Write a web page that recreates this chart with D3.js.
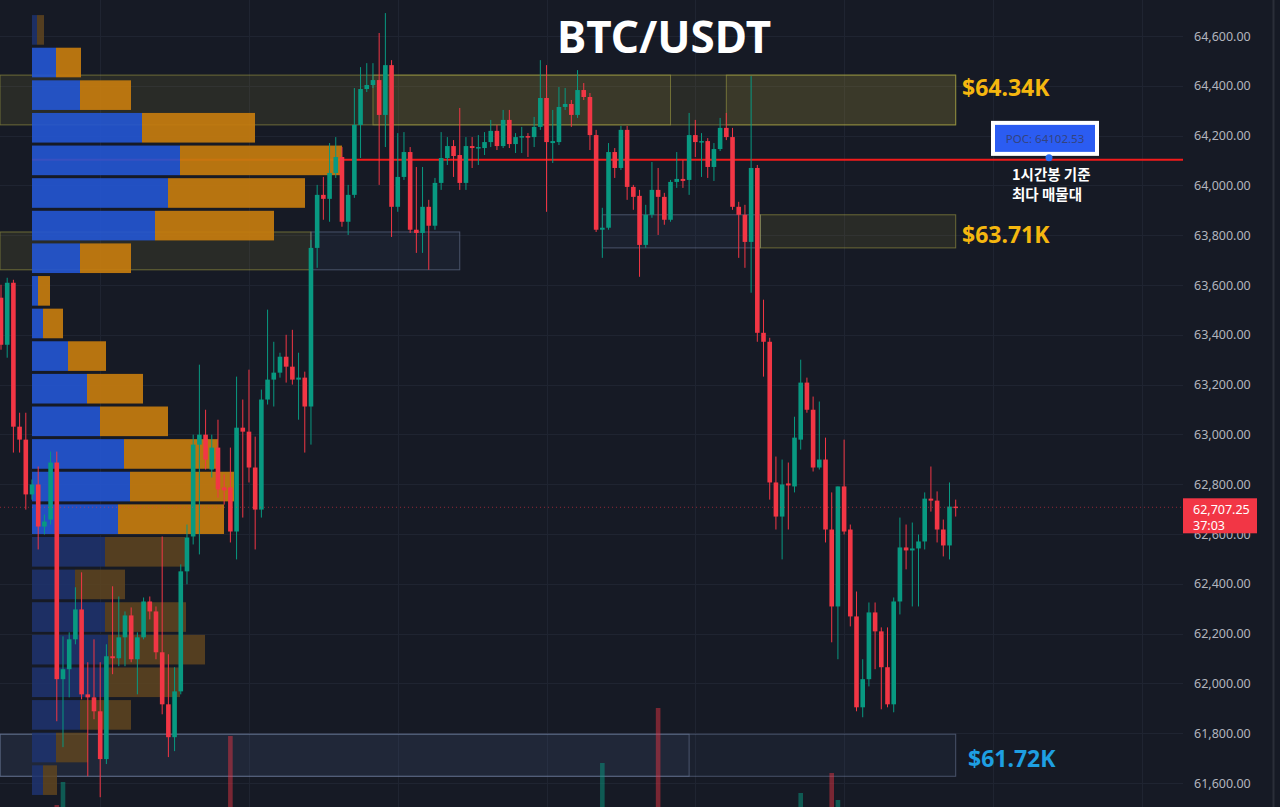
<!DOCTYPE html>
<html>
<head>
<meta charset="utf-8">
<script src="https://cdn.jsdelivr.net/npm/d3@7"></script>
<style>
  body { margin: 0; background: #161a25; overflow: hidden; }
  svg { display: block; }
</style>
</head>
<body>
<div id="chart"></div>
<script>
// candles (left -> right), prices
var openP = [63549,63360,63609,63031,62979,62759,62799,62630,62658,62887,
  62017,62057,62177,62297,61956,61944,61888,61696,62109,62101,
  62185,62273,62097,62185,62329,62289,62125,61916,61784,61968,
  62450,62590,62959,62999,62859,62947,62787,62787,62610,63027,
  63011,62867,62698,63140,63220,63248,63312,63272,63220,63228,
  63112,63749,63962,63946,64050,64114,63854,63962,64243,64387,
  64403,64423,64283,64483,63914,64034,64134,63822,63809,63914,
  63838,64010,64110,64158,64122,64010,64158,64150,64150,64174,
  64219,64158,64263,64166,64194,64198,64194,64235,64351,64170,
  64174,64315,64327,64283,64383,64355,64202,63822,63830,64134,
  64070,64223,63994,63958,63761,63882,63982,63954,63862,64014,
  64026,64022,64202,64174,64178,64074,64146,64231,64194,63914,
  63882,63773,64070,63408,63372,62807,62670,62803,62791,62979,
  63208,63099,62867,62899,62618,62309,62791,62618,62269,61904,
  62017,62285,62209,62065,61916,62329,62546,62534,62542,62570,
  62742,62734,62618,62554,62710];
var highP = [63601,63629,63621,63087,63087,62819,62871,62678,62931,62931,
  62189,62205,62386,62446,62085,62177,62085,62157,62390,62349,
  62289,62305,62205,62345,62349,62309,62590,62117,62065,62478,
  62638,62999,63280,63099,62999,63059,62839,62947,63232,63140,
  63260,62991,63180,63501,63372,63328,63400,63420,63328,63252,
  63781,64002,64034,64170,64194,64154,64002,64391,64475,64491,
  64491,64612,64692,64503,64210,64214,64154,64074,64074,63942,
  64030,64214,64194,64182,64311,64194,64194,64202,64214,64263,
  64243,64303,64303,64210,64235,64210,64275,64503,64483,64303,
  64395,64391,64343,64463,64411,64371,64223,63910,64170,64150,
  64239,64239,64002,63982,63922,64094,64070,63970,64022,64134,
  64102,64291,64263,64210,64190,64170,64271,64291,64231,63934,
  63922,64439,64082,63541,63388,62911,62899,62887,63071,63300,
  63228,63152,63132,62987,62767,62791,62979,62638,62369,62097,
  62325,62325,62225,62225,62345,62666,62638,62646,62598,62767,
  62871,62771,62658,62807,62738];
var lowP = [63340,63308,62927,62927,62698,62738,62538,62598,62638,61848,
  61744,61944,62157,61936,61627,61856,61543,61676,62037,62069,
  62069,62085,61956,62177,62257,62097,61876,61704,61728,61956,
  62398,62558,62518,62859,62827,62746,62718,62566,62498,62666,
  62807,62538,62666,63120,63112,63228,63208,63200,63059,62927,
  62959,63669,63862,63854,64030,63834,63801,63950,64110,64375,
  64391,64002,64154,63793,63894,64022,63809,63729,63729,63661,
  63822,63982,64082,64034,63982,63982,64070,64082,64122,64154,
  64142,64150,64150,64130,64130,64114,64154,64223,63894,64090,
  64162,64303,64235,64271,64343,64142,63813,63709,63822,64030,
  64062,63942,63902,63633,63749,63870,63801,63842,63854,63990,
  63990,63962,64114,64034,64030,64018,64138,64182,63902,63709,
  63669,63569,63372,63232,62738,62618,62498,62618,62767,62939,
  63087,62851,62859,62566,62165,62097,62598,62229,61888,61864,
  61988,62057,61896,61904,61884,62277,62458,62309,62309,62538,
  62690,62566,62510,62498,62670];
var closeP = [63360,63609,63031,62979,62759,62799,62630,62650,62887,62017,
  62057,62177,62297,61956,61944,61888,61696,62109,62101,62185,
  62273,62097,62185,62329,62289,62125,61916,61784,61968,62450,
  62586,62959,62999,62899,62947,62779,62775,62610,63027,63011,
  62867,62698,63140,63220,63248,63312,63272,63220,63228,63112,
  63749,63962,63946,64050,64114,63854,63962,64243,64387,64403,
  64423,64283,64483,63914,64034,64134,63822,63809,63914,63838,
  64010,64110,64158,64118,64010,64158,64150,64154,64174,64219,
  64158,64263,64166,64194,64198,64194,64235,64351,64174,64178,
  64315,64327,64283,64383,64355,64202,63822,63830,64134,64070,
  64223,63994,63954,63761,63882,63982,63954,63862,64014,64026,
  64018,64202,64174,64178,64074,64146,64231,64194,63914,63882,
  63773,64070,63408,63372,62807,62670,62799,62795,62987,63208,
  63099,62867,62899,62618,62309,62791,62610,62269,61904,62017,
  62285,62209,62065,61916,62329,62546,62534,62542,62570,62742,
  62734,62618,62554,62710,62707.25];

// only the volume bars that reach into the visible area
var volBars = [9, 10, 37, 97, 106, 129, 134, 135];
var volValues = [250, 480, 940, 670, 1220, 370, 570, 300];

// volume profile rows, top to bottom (buy = blue, sell = orange)
var profileTop = 64690;
var profileStep = 131;
var profileBuy = [5, 24, 48, 110, 148, 136, 123, 48, 6, 11, 36, 55, 68, 92, 98, 86, 73, 43, 73, 76, 76, 48, 24, 11];
var profileSell = [7, 25, 51, 113, 162, 137, 119, 51, 12, 20, 38, 56, 68, 94, 104, 106, 80, 50, 81, 97, 72, 51, 32, 14];
var valueArea = [1, 15]; // first and last row inside the value area
var pocPrice = 64102.53;

// price ticks on the right axis
var priceTicks = [61600, 61800, 62000, 62200, 62400, 62600, 62800, 63000, 63200, 63400, 63600, 63800, 64000, 64200, 64400, 64600];
// vertical grid lines, by bar index
var gridBars = [16, 40, 64, 88, 112, 136, 160, 184];

// zones: [fromBar, toBar, high, low, kind]
var zones = [
  [-0.2, 154, 64443, 64243, "olive"],
  [60, 108, 64443, 64243, "olive"],
  [117, 154, 64443, 64243, "olive"],
  [-0.2, 50, 63813, 63661, "olive"],
  [50, 74, 63813, 63661, "slate"],
  [97, 122.5, 63882, 63749, "slate"],
  [122.5, 154, 63882, 63749, "olive"],
  [-0.2, 154, 61796, 61627, "slate"],
  [-0.2, 111, 61796, 61627, "slate"]
];
var zoneLabels = ["$64.34K", "$63.71K", "$61.72K"];
var zoneLabelPrices = [64395, 63805, 61700];
var zoneLabelKinds = ["gold", "gold", "blue"];

var lastPrice = closeP[closeP.length - 1];
var countdown = "37:03";

var width = 1280, height = 807;
var plotRight = 1183;

var svg = d3.select("#chart").append("svg")
  .attr("width", width)
  .attr("height", height);

svg.append("rect").attr("width", width).attr("height", height).attr("fill", "#161a25");

var x = d3.scaleLinear().domain([0, openP.length - 1]).range([1, 955.7]);
var y = d3.scaleLinear().domain([61600, 64600]).range([783, 36]);
var bodyW = 4.6;

//grid
svg.append("g").selectAll("line.h")
  .data(priceTicks).enter().append("line")
  .attr("x1", 0).attr("x2", plotRight)
  .attr("y1", function (d) { return Math.round(y(d)) + 0.5; })
  .attr("y2", function (d) { return Math.round(y(d)) + 0.5; })
  .attr("stroke", "#1f2431").attr("stroke-width", 1);
svg.append("g").selectAll("line.v")
  .data(gridBars).enter().append("line")
  .attr("x1", function (d) { return Math.round(x(d)) + 0.5; })
  .attr("x2", function (d) { return Math.round(x(d)) + 0.5; })
  .attr("y1", 0).attr("y2", height)
  .attr("stroke", "#1f2431").attr("stroke-width", 1);

//zones
var zoneFill = { olive: "rgba(160,152,60,0.14)", slate: "rgba(75,95,140,0.10)" };
var zoneStroke = { olive: "rgba(170,165,70,0.55)", slate: "rgba(120,135,170,0.5)" };
svg.append("g").selectAll("rect")
  .data(zones).enter().append("rect")
  .attr("x", function (d) { return Math.max(0, x(d[0])); })
  .attr("y", function (d) { return y(d[2]); })
  .attr("width", function (d) { return x(d[1]) - Math.max(0, x(d[0])); })
  .attr("height", function (d) { return y(d[3]) - y(d[2]); })
  .attr("fill", function (d) { return zoneFill[d[4]]; })
  .attr("stroke", function (d) { return zoneStroke[d[4]]; })
  .attr("stroke-width", 1);

//volume
var vy = d3.scaleLinear().domain([0, 1300]).range([830, 700]);
svg.append("g").selectAll("rect")
  .data(volBars).enter().append("rect")
  .attr("x", function (d) { return x(d) - bodyW / 2; })
  .attr("y", function (d, i) { return vy(volValues[i]); })
  .attr("width", bodyW)
  .attr("height", function (d, i) { return vy(0) - vy(volValues[i]); })
  .attr("fill", function (d) { return closeP[d] >= openP[d] ? "rgba(8,153,129,0.5)" : "rgba(242,54,69,0.45)"; });

//POC line (under the profile)
svg.append("line")
  .attr("x1", 32).attr("x2", plotRight)
  .attr("y1", y(pocPrice)).attr("y2", y(pocPrice))
  .attr("stroke", "#f21b1b").attr("stroke-width", 2);

//volume profile
var totals = profileBuy.map(function (d, i) { return d + profileSell[i]; });
var pw = d3.scaleLinear().domain([0, d3.max(totals)]).range([0, 310]);
var px0 = 32;
var prof = svg.append("g");
profileBuy.forEach(function (b, i) {
  var hi = profileTop - i * profileStep;
  var lo = hi - profileStep;
  var y0 = y(hi) + 1.5, h = y(lo) - y(hi) - 3;
  var inVA = i >= valueArea[0] && i <= valueArea[1];
  prof.append("rect")
    .attr("x", px0).attr("y", y0)
    .attr("width", pw(b)).attr("height", h)
    .attr("fill", inVA ? "#2456d4" : "#1e3470")
    .attr("opacity", inVA ? 0.9 : 0.85);
  prof.append("rect")
    .attr("x", px0 + pw(b)).attr("y", y0)
    .attr("width", pw(profileSell[i])).attr("height", h)
    .attr("fill", inVA ? "#c57c0e" : "#5f4520")
    .attr("opacity", inVA ? 0.92 : 0.85);
});

//candles
var candles = svg.append("g").selectAll("g")
  .data(openP).enter().append("g");
function col(i) { return closeP[i] >= openP[i] ? "#089981" : "#f23645"; }
candles.append("line")
  .attr("x1", function (d, i) { return x(i); })
  .attr("x2", function (d, i) { return x(i); })
  .attr("y1", function (d, i) { return y(highP[i]); })
  .attr("y2", function (d, i) { return y(lowP[i]); })
  .attr("stroke", function (d, i) { return col(i); })
  .attr("stroke-width", 1);
candles.append("rect")
  .attr("x", function (d, i) { return x(i) - bodyW / 2; })
  .attr("y", function (d, i) { return y(Math.max(openP[i], closeP[i])); })
  .attr("width", bodyW)
  .attr("height", function (d, i) { return Math.max(1.5, Math.abs(y(openP[i]) - y(closeP[i]))); })
  .attr("fill", function (d, i) { return col(i); });

//last price line
svg.append("line")
  .attr("x1", 0).attr("x2", plotRight)
  .attr("y1", y(lastPrice)).attr("y2", y(lastPrice))
  .attr("stroke", "rgba(242,54,69,0.55)").attr("stroke-width", 1)
  .attr("stroke-dasharray", "1,3");

//price axis
var yAxis = d3.axisRight(y)
  .tickValues(priceTicks)
  .tickSize(0)
  .tickPadding(0)
  .tickFormat(d3.format(",.2f"));
var ax = svg.append("g")
  .attr("transform", "translate(1194,0)")
  .call(yAxis);
ax.select(".domain").remove();
ax.selectAll("text")
  .attr("fill", "#b2b5be")
  .style("font-family", "'Noto Sans', sans-serif")
  .style("font-size", "12.5px");

svg.append("line")
  .attr("x1", 1273.5).attr("x2", 1273.5).attr("y1", 0).attr("y2", height)
  .attr("stroke", "#2a2e39").attr("stroke-width", 2);

//last price tag
var ly = y(lastPrice);
svg.append("rect")
  .attr("x", plotRight).attr("y", ly - 9)
  .attr("width", 74).attr("height", 35)
  .attr("fill", "#f23645");
svg.append("text")
  .attr("x", 1193).attr("y", ly + 7)
  .attr("fill", "#fff")
  .style("font-family", "'Noto Sans', sans-serif").style("font-size", "12.5px")
  .text(d3.format(",.2f")(lastPrice));
svg.append("text")
  .attr("x", 1193).attr("y", ly + 23)
  .attr("fill", "#fff")
  .style("font-family", "'Noto Sans', sans-serif").style("font-size", "12.5px")
  .text(countdown);

//zone labels
svg.append("g").selectAll("text")
  .data(zoneLabels).enter().append("text")
  .attr("x", function (d, i) { return i == 2 ? 968 : 962; })
  .attr("y", function (d, i) { return y(zoneLabelPrices[i]) + 9; })
  .attr("fill", function (d, i) { return zoneLabelKinds[i] == "gold" ? "#f5b70f" : "#1e9fe2"; })
  .style("font-family", "'Noto Sans', sans-serif")
  .style("font-weight", "bold")
  .style("font-size", "23px")
  .text(function (d) { return d; });

//POC tag
var pocY = y(pocPrice);
svg.append("rect")
  .attr("x", 993).attr("y", pocY - 37)
  .attr("width", 104).attr("height", 31)
  .attr("fill", "#2b5cf2")
  .attr("stroke", "#ffffff").attr("stroke-width", 4);
svg.append("text")
  .attr("x", 1045).attr("y", pocY - 17)
  .attr("text-anchor", "middle")
  .attr("fill", "#34437e")
  .style("font-family", "'Noto Sans', sans-serif")
  .style("font-size", "11.5px")
  .text("POC: " + pocPrice.toFixed(2));
svg.append("circle")
  .attr("cx", 1049).attr("cy", pocY - 2).attr("r", 3.5)
  .attr("fill", "#2b6cf2");
svg.append("text")
  .attr("x", 1012).attr("y", pocY + 20)
  .attr("fill", "#ffffff")
  .style("font-family", "'Noto Sans CJK KR', sans-serif")
  .style("font-weight", "bold")
  .style("font-size", "14.5px")
  .text("1시간봉 기준");
svg.append("text")
  .attr("x", 1012).attr("y", pocY + 40)
  .attr("fill", "#ffffff")
  .style("font-family", "'Noto Sans CJK KR', sans-serif")
  .style("font-weight", "bold")
  .style("font-size", "14.5px")
  .text("최다 매물대");

//title
svg.append("text")
  .attr("x", 664).attr("y", 53)
  .attr("text-anchor", "middle")
  .attr("fill", "#ffffff")
  .style("font-family", "'Noto Sans', sans-serif")
  .style("font-weight", "bold")
  .style("font-size", "44px")
  .text("BTC/USDT");
</script>
</body>
</html>
